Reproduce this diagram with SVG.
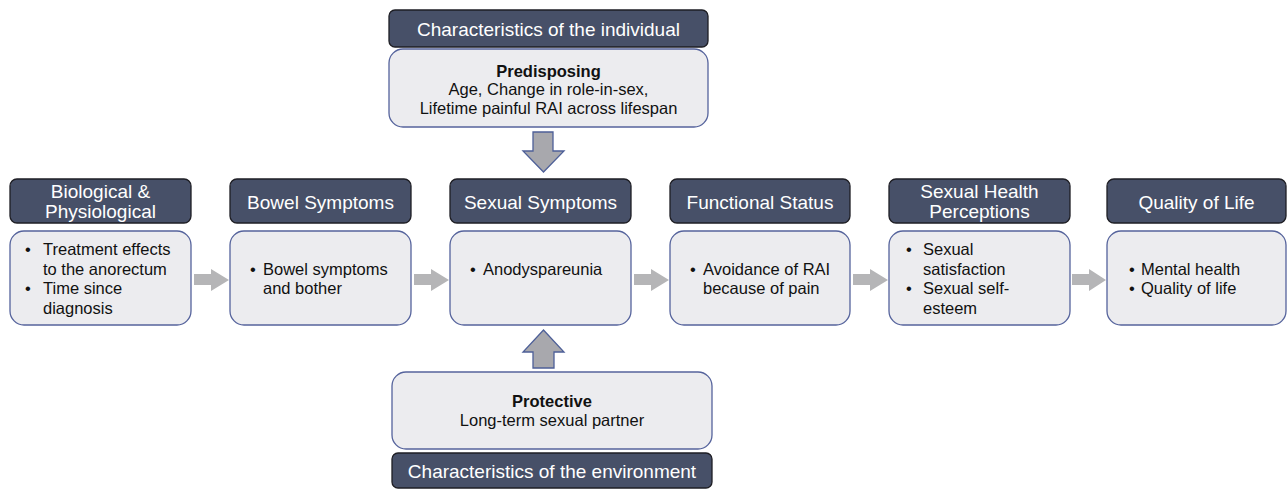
<svg xmlns="http://www.w3.org/2000/svg" width="1287" height="489" viewBox="0 0 1287 489">
<style>
.hd{fill:#475068;stroke:#1e1e24;stroke-width:1.3}
.bx{fill:#ececef;stroke:#55639c;stroke-width:1.3}
.ht{font-family:"Liberation Sans",Arial,sans-serif;font-size:19px;fill:#ffffff;text-anchor:middle}
.ct{font-family:"Liberation Sans",Arial,sans-serif;font-size:16.5px;fill:#111111}
.cc{text-anchor:middle}
.b{font-weight:bold}
.ha{fill:#b5b5b7}
.va{fill:#a8a8ad;stroke:#4d5f98;stroke-width:1.3;stroke-linejoin:miter}
</style>
<rect width="1287" height="489" fill="#ffffff"/>

<g id="individual">
<rect class="hd" x="389" y="10" width="319" height="37" rx="6"/>
<text class="ht" x="548.5" y="36">Characteristics of the individual</text>
<rect class="bx" x="389" y="49" width="319" height="78" rx="14"/>
<text class="ct cc b" x="548.5" y="77">Predisposing</text>
<text class="ct cc" x="548.5" y="95">Age, Change in role-in-sex,</text>
<text class="ct cc" x="548.5" y="114">Lifetime painful RAI across lifespan</text>
</g>

<g id="environment">
<rect class="bx" x="392" y="372" width="320" height="77" rx="14"/>
<text class="ct cc b" x="552" y="407">Protective</text>
<text class="ct cc" x="552" y="426">Long-term sexual partner</text>
<rect class="hd" x="392" y="453" width="320" height="35" rx="6"/>
<text class="ht" x="552" y="478">Characteristics of the environment</text>
</g>

<g id="biological">
<rect class="hd" x="10" y="179" width="181" height="44" rx="7"/>
<text class="ht" x="100.5" y="198">Biological &amp;</text>
<text class="ht" x="100.5" y="218">Physiological</text>
<rect class="bx" x="10" y="231" width="181" height="94" rx="14"/>
<text class="ct" x="25" y="255">•</text>
<text class="ct" x="43" y="255">Treatment effects</text>
<text class="ct" x="43" y="274.5">to the anorectum</text>
<text class="ct" x="25" y="294">•</text>
<text class="ct" x="43" y="294">Time since</text>
<text class="ct" x="43" y="313.5">diagnosis</text>
</g>

<g id="bowel">
<rect class="hd" x="230" y="179" width="181" height="44" rx="7"/>
<text class="ht" x="320.5" y="209">Bowel Symptoms</text>
<rect class="bx" x="230" y="231" width="181" height="94" rx="14"/>
<text class="ct" x="250" y="274.5">•</text>
<text class="ct" x="263" y="274.5">Bowel symptoms</text>
<text class="ct" x="263" y="294">and bother</text>
</g>

<g id="sexual-symptoms">
<rect class="hd" x="450" y="179" width="181" height="44" rx="7"/>
<text class="ht" x="540.5" y="209">Sexual Symptoms</text>
<rect class="bx" x="450" y="231" width="181" height="94" rx="14"/>
<text class="ct" x="470" y="274.5">•</text>
<text class="ct" x="483" y="274.5">Anodyspareunia</text>
</g>

<g id="functional">
<rect class="hd" x="670" y="179" width="180" height="44" rx="7"/>
<text class="ht" x="760" y="209">Functional Status</text>
<rect class="bx" x="670" y="231" width="180" height="94" rx="14"/>
<text class="ct" x="690" y="274.5">•</text>
<text class="ct" x="703" y="274.5">Avoidance of RAI</text>
<text class="ct" x="703" y="294">because of pain</text>
</g>

<g id="perceptions">
<rect class="hd" x="889" y="179" width="181" height="44" rx="7"/>
<text class="ht" x="979.5" y="198">Sexual Health</text>
<text class="ht" x="979.5" y="218">Perceptions</text>
<rect class="bx" x="889" y="231" width="181" height="94" rx="14"/>
<text class="ct" x="906" y="255">•</text>
<text class="ct" x="923" y="255">Sexual</text>
<text class="ct" x="923" y="274.5">satisfaction</text>
<text class="ct" x="906" y="294">•</text>
<text class="ct" x="923" y="294">Sexual self-</text>
<text class="ct" x="923" y="313.5">esteem</text>
</g>

<g id="quality">
<rect class="hd" x="1107" y="179" width="179" height="44" rx="7"/>
<text class="ht" x="1196.5" y="209">Quality of Life</text>
<rect class="bx" x="1107" y="231" width="179" height="94" rx="14"/>
<text class="ct" x="1129" y="274.5">•</text>
<text class="ct" x="1141" y="274.5">Mental health</text>
<text class="ct" x="1129" y="294">•</text>
<text class="ct" x="1141" y="294">Quality of life</text>
</g>

<g id="connectors">
<polygon class="ha" points="194,274 211,274 211,269 229,280 211,291 211,285 194,285"/>
<polygon class="ha" points="414,274 431,274 431,269 449,280 431,291 431,285 414,285"/>
<polygon class="ha" points="634,274 651,274 651,269 669,280 651,291 651,285 634,285"/>
<polygon class="ha" points="853,274 870,274 870,269 888,280 870,291 870,285 853,285"/>
<polygon class="ha" points="1072,274 1089,274 1089,269 1106,280 1089,291 1089,285 1072,285"/>
<polygon class="va" points="533,132 553,132 553,151 564,151 543.5,172 523,151 533,151"/>
<polygon class="va" points="533,368 554,368 554,352 564,352 543.5,330 523,352 533,352"/>
</g>
</svg>
